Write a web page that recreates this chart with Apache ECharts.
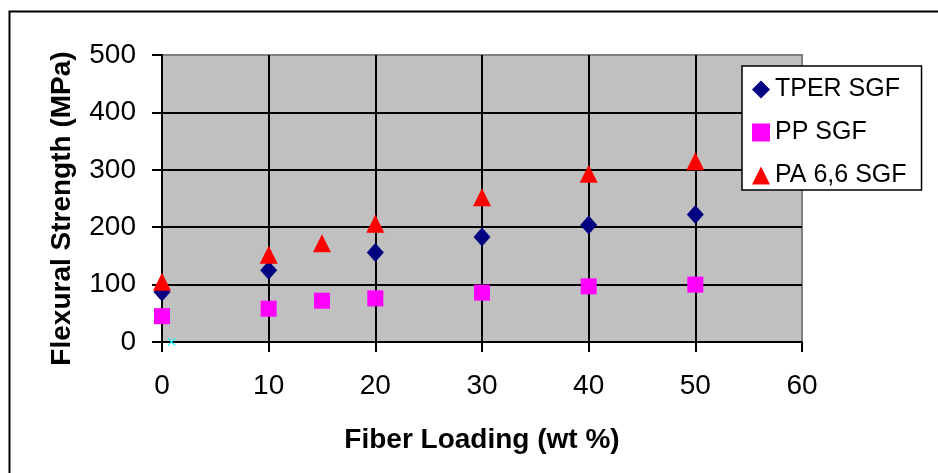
<!DOCTYPE html>
<html>
<head>
<meta charset="utf-8">
<script src="https://cdn.jsdelivr.net/npm/echarts@6/dist/echarts.min.js"></script>
<style>
html,body{margin:0;padding:0;background:#fff;}
#chart{width:938px;height:473px;}
</style>
</head>
<body>
<div id="chart"></div>
<script>
var xTicks = [0, 10, 20, 30, 40, 50, 60];
var yTicks = [0, 100, 200, 300, 400, 500];
var tperX = [0, 10, 20, 30, 40, 50];
var tperY = [87, 125, 156, 183, 204, 222];
var ppX = [0, 10, 15, 20, 30, 40, 50];
var ppY = [45, 58, 72, 76, 86, 97, 100];
var paX = [0, 10, 15, 20, 30, 40, 50];
var paY = [105, 152, 172, 206, 252, 293, 315];
var extraX = [0.9];
var extraY = [0];

function pairs(xs, ys) { return xs.map(function (x, i) { return [x, ys[i]]; }); }

var FONT = 'Arial, "Liberation Sans", sans-serif';
var chart = echarts.init(document.getElementById('chart'), null, {renderer: 'canvas'});
chart.setOption({
  animation: false,
  backgroundColor: '#ffffff',
  graphic: [{
    type: 'rect',
    left: 7, top: 9,
    shape: {width: 940, height: 470},
    style: {fill: 'none', stroke: '#000', lineWidth: 2},
    silent: true
  }],
  grid: {
    left: 162, right: 136, top: 55, bottom: 131,
    show: true, backgroundColor: '#C0C0C0', borderColor: '#808080', borderWidth: 2
  },
  legend: {
    orient: 'vertical',
    left: 742, top: 66,
    data: ['TPER SGF', 'PP SGF', 'PA 6,6 SGF'],
    backgroundColor: '#fff', borderColor: '#000', borderWidth: 1.5, borderRadius: 0,
    padding: [11, 15, 2, 10],
    itemWidth: 18, itemHeight: 18, itemGap: 18,
    textStyle: {fontFamily: FONT, fontSize: 25, color: '#000', lineHeight: 25}
  },
  xAxis: {
    type: 'value', min: 0, max: 60, interval: 10,
    name: 'Fiber Loading (wt %)', nameLocation: 'middle', nameGap: 84,
    nameTextStyle: {fontFamily: FONT, fontSize: 28, fontWeight: 'bold', color: '#000'},
    axisLine: {show: true, onZero: false, lineStyle: {color: '#000', width: 2}},
    axisTick: {show: true, length: 10, lineStyle: {color: '#000', width: 2}},
    axisLabel: {fontFamily: FONT, fontSize: 28, color: '#000', margin: 30,
      formatter: function (v) { return xTicks.indexOf(v) >= 0 ? String(v) : ''; }},
    splitLine: {show: true, showMinLine: false, showMaxLine: false, lineStyle: {color: '#000', width: 2}}
  },
  yAxis: {
    type: 'value', min: 0, max: 500, interval: 100,
    name: 'Flexural Strength (MPa)', nameLocation: 'middle', nameGap: 86, nameRotate: 90,
    nameTextStyle: {fontFamily: FONT, fontSize: 28, fontWeight: 'bold', color: '#000', padding: [0, 20, 0, 0]},
    axisLine: {show: true, lineStyle: {color: '#000', width: 2}},
    axisTick: {show: true, length: 10, lineStyle: {color: '#000', width: 2}},
    axisLabel: {fontFamily: FONT, fontSize: 28, color: '#000', margin: 26,
      formatter: function (v) { return yTicks.indexOf(v) >= 0 ? String(v) : ''; }},
    splitLine: {show: true, showMinLine: false, showMaxLine: false, lineStyle: {color: '#000', width: 2}}
  },
  series: [
    {name: 'TPER SGF', type: 'scatter', symbol: 'diamond', symbolSize: [17, 19],
     itemStyle: {color: '#000080', opacity: 1}, data: pairs(tperX, tperY), z: 3},
    {name: 'PP SGF', type: 'scatter', symbol: 'rect', symbolSize: 16,
     itemStyle: {color: '#FF00FF', opacity: 1}, data: pairs(ppX, ppY), z: 3},
    {name: 'PA 6,6 SGF', type: 'scatter', symbol: 'triangle', symbolSize: 18,
     itemStyle: {color: '#FF0000', opacity: 1}, data: pairs(paX, paY), z: 4},
    {name: 'Series4', type: 'scatter',
     symbol: 'path://M0,1L1,0L5,4L9,0L10,1L6,5L10,9L9,10L5,6L1,10L0,9L4,5Z', symbolSize: 8,
     itemStyle: {color: '#00FFFF', opacity: 1}, data: pairs(extraX, extraY), z: 5}
  ]
});
</script>
</body>
</html>
